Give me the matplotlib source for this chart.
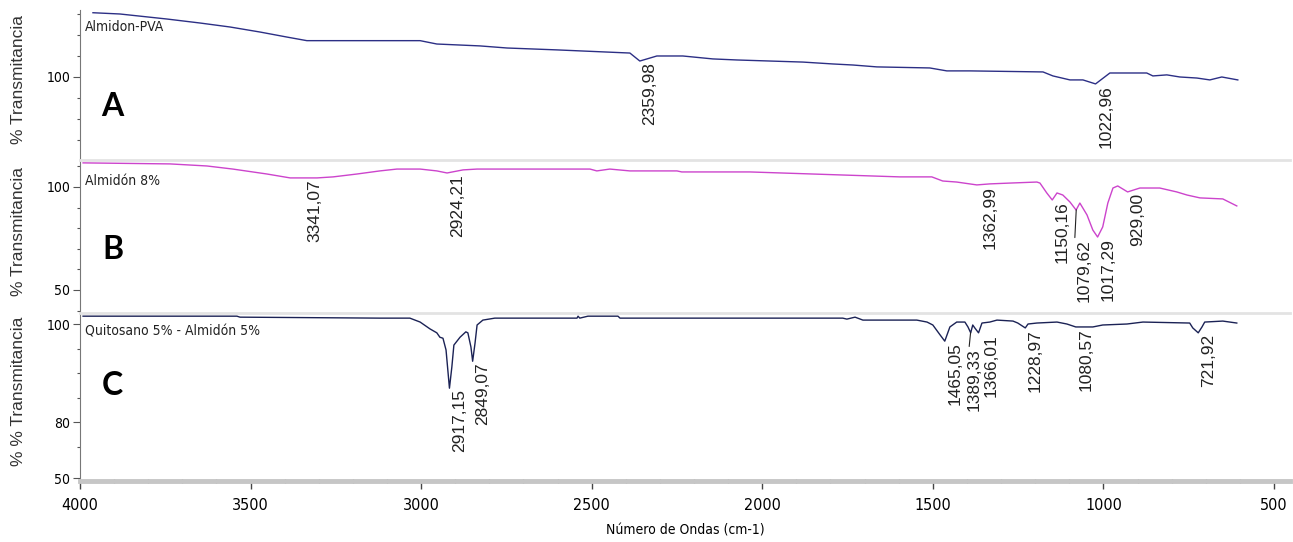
import numpy as np
import matplotlib
matplotlib.use("Agg")
import matplotlib.pyplot as plt
from matplotlib import font_manager
from matplotlib.ticker import MultipleLocator, FixedLocator

# panel A - Almidon-PVA
wn_a = [3962, 3883, 3745, 3648, 3560, 3472, 3393, 3335, 3003, 2954, 2828, 2748, 2602, 2388,
        2359, 2338, 2309, 2233, 2145, 2074, 1978, 1881, 1793, 1734, 1664, 1509, 1459, 1391,
        1177, 1148, 1098, 1060, 1023, 981, 873, 855, 814, 776, 726, 688, 653, 606]
t_a = [130.6, 130.0, 127.6, 125.7, 123.8, 121.4, 119.0, 117.3, 117.3, 115.7, 114.8, 113.8, 112.9, 111.4,
       107.6, 108.6, 110.0, 110.0, 108.6, 108.1, 107.6, 107.1, 106.2, 105.7, 104.8, 104.3, 102.9, 102.9,
       102.4, 100.5, 98.6, 98.6, 96.7, 101.9, 101.9, 100.5, 101.0, 100.0, 99.5, 98.6, 100.0, 98.6]

# panel B - Almidon 8%
wn_b = [3991, 3736, 3628, 3552, 3452, 3384, 3305, 3258, 3188, 3121, 3071, 3003, 2954, 2924,
        2877, 2836, 2505, 2485, 2447, 2388, 2250, 2236, 2036, 1597, 1503, 1471, 1430, 1371,
        1333, 1274, 1195, 1186, 1166, 1150, 1136, 1119, 1098, 1080, 1069, 1048, 1031, 1017,
        1002, 987, 972, 958, 929, 893, 835, 785, 755, 717, 650, 609]
t_b = [111.7, 111.2, 110.2, 108.7, 106.3, 104.4, 104.4, 104.9, 106.3, 107.8, 108.7, 108.7, 107.8, 106.8,
       108.3, 108.7, 108.7, 107.8, 108.7, 107.8, 107.8, 107.3, 107.3, 104.9, 104.9, 102.9, 102.4, 101.0,
       101.5, 101.9, 102.4, 101.9, 97.1, 93.7, 97.1, 96.1, 92.7, 88.8, 92.2, 86.4, 79.1, 75.7,
       80.6, 92.2, 99.5, 100.5, 97.6, 99.5, 99.5, 97.6, 96.1, 94.7, 94.2, 90.8]

# panel C - Quitosano 5% - Almidon 5%
wn_c = [3991, 3540, 3531, 3121, 3033, 3003, 2974, 2954, 2945, 2936, 2927, 2917, 2910, 2904,
        2886, 2869, 2863, 2854, 2849, 2842, 2836, 2819, 2784, 2543, 2540, 2535, 2511, 2423,
        2417, 1764, 1752, 1728, 1705, 1547, 1517, 1500, 1479, 1465, 1450, 1430, 1406, 1397,
        1389, 1383, 1377, 1366, 1356, 1333, 1312, 1265, 1251, 1229, 1221, 1195, 1136, 1107,
        1081, 1031, 1002, 931, 884, 747, 738, 722, 711, 703, 650, 609]
t_c = [101.6, 101.6, 101.4, 101.2, 101.2, 100.4, 99.0, 98.2, 97.3, 97.1, 94.7, 86.9, 91.2, 95.7,
       97.3, 98.4, 98.2, 95.3, 92.4, 96.1, 99.8, 100.8, 101.2, 101.2, 101.6, 101.2, 101.6, 101.6,
       101.2, 101.2, 101.0, 101.4, 100.8, 100.8, 100.4, 99.8, 97.8, 96.5, 99.4, 100.4, 100.4, 99.4,
       98.2, 99.8, 99.2, 98.2, 100.2, 100.4, 100.8, 100.6, 100.2, 99.2, 100.0, 100.2, 100.4, 100.0,
       99.4, 99.4, 99.8, 100.0, 100.4, 100.2, 99.2, 98.2, 99.4, 100.4, 100.6, 100.2]

peaks_a = [2359.98, 1022.96]
peaks_b = [3341.07, 2924.21, 1362.99, 1150.16, 1079.62, 1017.29, 929.00]
peaks_c = [2917.15, 2849.07, 1465.05, 1389.33, 1366.01, 1228.97, 1080.57, 721.92]
# peaks whose label hangs lower with a leader line (drop in points)
drops = {1079.62: 20, 1389.33: 10}
# sideways nudge of a few crowded labels (points)
nudges = {1389.33: -2.5, 1366.01: 3.5}

names = ["Almidon-PVA", "Almidón 8%", "Quitosano 5% - Almidón 5%"]
letters = ["A", "B", "C"]
ylabels = ["% Transmitancia", "% Transmitancia", "% % Transmitancia"]
colors = ["#2c2f85", "#cc44cc", "#1b2255"]

# a condensed face if the system has one, the tick labels in the original are narrow
cond = [f for f in font_manager.fontManager.ttflist
        if f.name == "DejaVu Sans" and f.stretch == "condensed" and f.weight in (400, "normal")]
if cond:
    plt.rcParams["font.family"] = ["DejaVu Sans"]
    plt.rcParams["font.stretch"] = "condensed"
    small = 9.5
else:
    plt.rcParams["font.family"] = ["Liberation Sans", "DejaVu Sans"]
    small = 10

fig = plt.figure(figsize=(12.93, 5.42), dpi=100)
W, H = 1293.0, 542.0
left, width = 80 / W, 1210 / W
# (top px, bottom px, ylim top, ylim bottom)
boxes = [(10, 159.5, 131.9, 60.7), (160, 312, 113.1, 39.3), (312.5, 481, 102.35, 67.96)]

series = [(wn_a, t_a, peaks_a), (wn_b, t_b, peaks_b), (wn_c, t_c, peaks_c)]
axes = []
for i, (top, bot, ytop, ybot) in enumerate(boxes):
    ax = fig.add_axes([left, 1 - bot / H, width, (bot - top) / H])
    wn, t, peaks = series[i]
    ax.plot(wn, t, color=colors[i], lw=1.0)
    ax.set_xlim(4000, 453)
    ax.set_ylim(ybot, ytop)
    ax.spines["right"].set_visible(False)
    ax.spines["left"].set_color("#777777")
    ax.spines["left"].set_linewidth(0.8)
    if i == 0:
        ax.spines["top"].set_visible(False)
    else:
        ax.spines["top"].set_color("#e3e3e3")
        ax.spines["top"].set_linewidth(2)
    ax.tick_params(axis="y", which="major", length=5, width=0.8, color="#555555",
                   labelsize=small + 0.5, pad=2)
    ax.tick_params(axis="y", which="minor", length=2.5, width=0.8, color="#555555")

    ax.text(0.004, [0.886, 0.862, 0.887][i], names[i], transform=ax.transAxes,
            fontsize=small + 0.5, color="#222222", ha="left", va="center")
    ax.text(0.027, [0.356, 0.408, 0.565][i], letters[i], transform=ax.transAxes,
            fontsize=23, fontweight="bold", family=["Lato", "DejaVu Sans"], stretch="normal",
            ha="center", va="center", color="black")

    xs = np.array(wn)[::-1]
    ys = np.array(t)[::-1]
    for p in peaks:
        v = np.interp(p, xs, ys)
        d = drops.get(p, 0)
        if d:
            ax.annotate("", xy=(p, v), xytext=(-1, -d), textcoords="offset points",
                        arrowprops=dict(arrowstyle="-", color="#222222", lw=0.8,
                                        shrinkA=0, shrinkB=0))
        dx = nudges.get(p, 2 if not d else 0)
        ax.annotate(f"{p:.2f}".replace(".", ","), xy=(p, v), xytext=(dx, -1.0 - d),
                    textcoords="offset points", rotation=90, ha="left", va="top",
                    fontsize=12.5, family=["Liberation Sans", "DejaVu Sans"], stretch="normal",
                    color="#222222")
    axes.append(ax)

ax_a, ax_b, ax_c = axes
ax_a.yaxis.set_major_locator(FixedLocator([100]))
ax_a.yaxis.set_minor_locator(MultipleLocator(10))
ax_b.yaxis.set_major_locator(FixedLocator([50, 100]))
ax_b.yaxis.set_minor_locator(MultipleLocator(10))
ax_c.yaxis.set_major_locator(FixedLocator([68.57, 80, 100]))
ax_c.set_yticklabels(["50", "80", "100"])
ax_c.yaxis.set_minor_locator(FixedLocator([75, 85, 90, 95]))

for ax in (ax_a, ax_b):
    ax.spines["bottom"].set_visible(False)
    ax.tick_params(axis="x", which="both", bottom=False, labelbottom=False)

ax_c.spines["bottom"].set_color("#c6c6c6")
ax_c.spines["bottom"].set_linewidth(3.5)
ax_c.xaxis.set_major_locator(MultipleLocator(500))
ax_c.xaxis.set_minor_locator(MultipleLocator(100))
ax_c.tick_params(axis="x", which="major", direction="out", length=6, width=1,
                 color="#444444", labelsize=small + 2, pad=6)
ax_c.tick_params(axis="x", which="minor", direction="inout", length=3, width=1,
                 color="#444444")
ax_c.set_xlabel("Número de Ondas (cm-1)", fontsize=small + 0.5, labelpad=8)

# rotated axis titles for each panel
for i, (top, bot, ytop, ybot) in enumerate(boxes):
    fig.text(19 / W, 1 - ((top + bot) / 2 - 5) / H, ylabels[i], rotation=90,
             ha="center", va="center", fontsize=12.5, color="#333333",
             family=["Liberation Sans", "DejaVu Sans"], stretch="normal")

fig.savefig("out.png", dpi=100)
